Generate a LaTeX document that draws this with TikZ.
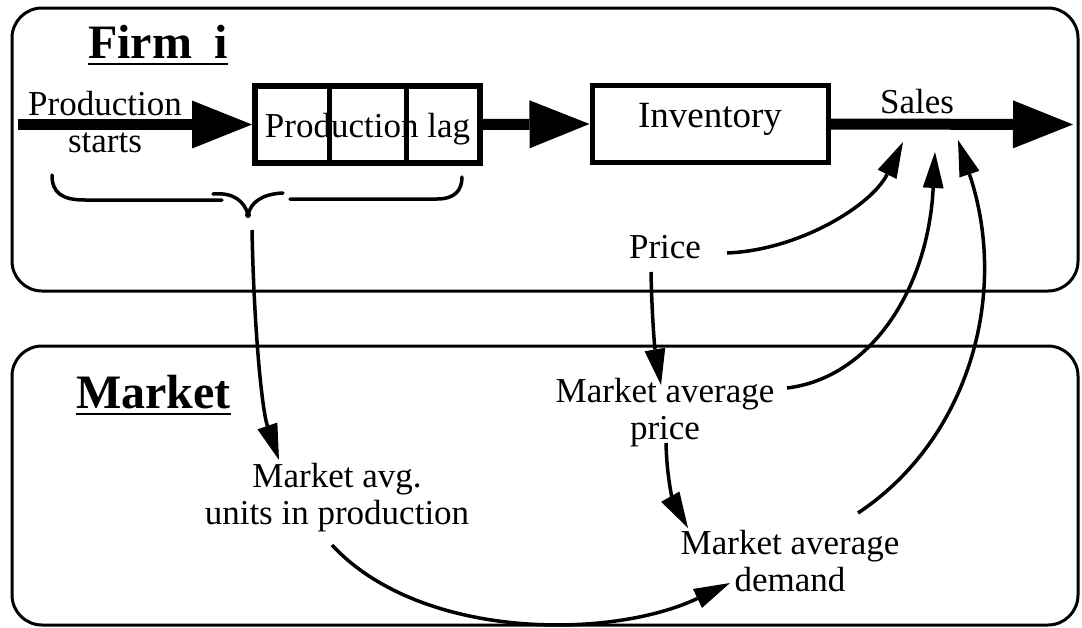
\documentclass[tikz,border=0pt]{standalone}
\usepackage{fontspec}
\setmainfont{Liberation Serif}
\usetikzlibrary{arrows.meta,calc}
\begin{document}
\begin{tikzpicture}[x=1pt,y=-1pt,
  frame/.style={draw, line width=3pt, rounded corners=30pt},
  flow/.style={line width=11pt, -{Triangle[length=60pt,width=48pt,line width=0pt]}},
  link/.style={line width=3.5pt, -{Triangle[length=36pt,width=21pt,line width=0pt]}},
  lbl/.style={font=\fontsize{35}{37}\selectfont, inner sep=0pt, align=center},
  ttl/.style={font=\fontsize{48}{50}\selectfont\bfseries, inner sep=0pt},
  stock/.style={draw, line width=6pt, inner sep=0pt, font=\fontsize{35}{37}\selectfont},
  brace/.style={line width=3.5pt, line cap=round}]
\useasboundingbox[fill=white] (0,0) rectangle (1082,627);

% frames
\draw[frame] (12,8) rectangle (1078,291);
\draw[frame] (12,346) rectangle (1078,625);

% titles
\node[ttl, anchor=base west] (firm) at (88,58) {Firm\hspace{22pt}i};
\draw[line width=2.5pt] ([yshift=-6pt]firm.base west) -- ([yshift=-6pt]firm.base east);
\node[ttl, anchor=base west] (market) at (76,408) {Market};
\draw[line width=2.5pt] ([yshift=-6pt]market.base west) -- ([yshift=-6pt]market.base east);

% stocks
\node[stock, minimum width=225pt, minimum height=77pt, text height=25pt, text depth=0pt] (lag) at (367.5,124.5) {Production lag};
\draw[line width=5pt] ($(lag.north west)!1/3!(lag.north east)$) -- ($(lag.south west)!1/3!(lag.south east)$);
\draw[line width=5pt] ($(lag.north west)!2/3!(lag.north east)$) -- ($(lag.south west)!2/3!(lag.south east)$);
\node[stock, line width=5pt, minimum width=236pt, minimum height=77pt, text height=22pt, text depth=15pt, font=\fontsize{37}{37}\selectfont] (inv) at (710,124) {Inventory};

% flow
\coordinate (src) at (18,124.5);
\coordinate (sink) at (1073,124.5);
\draw[flow] (src) -- (lag.west);
\draw[flow] (lag.east) -- (inv.west);
\draw[flow] (inv.east) -- (sink);

% labels (base = baseline of the last line)
\node[lbl, anchor=base] (ps) at (105,152) {Production\\starts};
\node[lbl, anchor=base] (sales) at (917,113) {Sales};
\node[lbl, anchor=base] (price) at (665,258) {Price};
\node[lbl, anchor=base] (map) at (665,439) {Market average\\price};
\node[lbl, anchor=base] (mauip) at (337,524) {Market avg.\\units in production};
\node[lbl, anchor=base] (mad) at (790,591) {Market average\\demand};

% brace
\coordinate (btip) at (248,215);
\draw[brace] (52,175) .. controls (52,193) and (62,200) .. (85,200) -- (222,200);
\draw[brace] (213,194) .. controls (234,192) and (245,202) .. (btip);
\draw[brace] (btip) .. controls (251,202) and (262,194) .. (283,193);
\draw[brace] (290,199) -- (437,199) .. controls (455,199) and (462,190) .. (462,177);
\fill (btip) circle (3pt);

% connector end points
\coordinate (b-o) at (252,230);
\coordinate (mauip-i) at (279,460);
\coordinate (mauip-o) at (332,545);
\coordinate (mad-i) at (730,583);
\coordinate (price-o) at (727,253);
\coordinate (price-d) at (651,272);
\coordinate (map-i) at (661,385);
\coordinate (map-o) at (787,388);
\coordinate (map-d) at (666,443);
\coordinate (mad-t) at (688,528);
\coordinate (mad-o) at (858,513);
\coordinate (sales-a) at (903,142);
\coordinate (sales-b) at (935,152);
\coordinate (sales-c) at (958,140);

% connectors
\draw[link] (b-o) .. controls (254,330) and (262,410) .. (mauip-i);
\draw[link] (mauip-o) .. controls (420,640) and (610,640) .. (mad-i);
\draw[link] (price-o) .. controls (800,250) and (872,205) .. (sales-a);
\draw[link] (price-d) .. controls (652,320) and (655,350) .. (map-i);
\draw[link] (map-o) .. controls (870,378) and (928,290) .. (sales-b);
\draw[link] (map-d) .. controls (667,485) and (675,505) .. (mad-t);
\draw[link] (mad-o) .. controls (968,440) and (1010,295) .. (sales-c);
\end{tikzpicture}
\end{document}
